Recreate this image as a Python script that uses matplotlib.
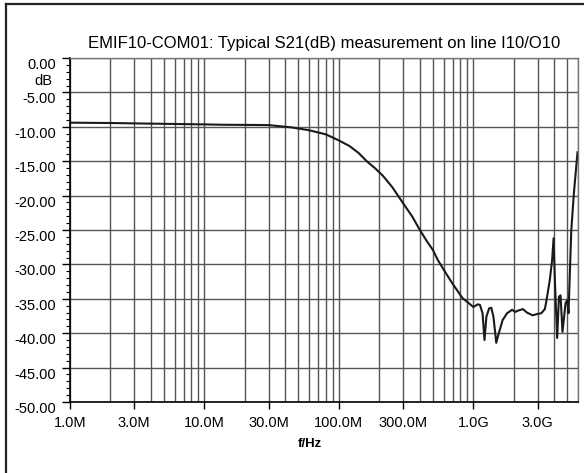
import matplotlib
matplotlib.use('Agg')
import matplotlib.pyplot as plt
from matplotlib.ticker import FixedLocator, LogLocator, NullFormatter, MultipleLocator
from matplotlib.lines import Line2D

plt.rcParams['font.family'] = ['Liberation Sans', 'DejaVu Sans']

# measured S21 curve (frequency in MHz, level in dB)
freq_mhz = [1.0, 2.0, 4.3, 10, 13.5, 30, 45, 60, 80, 98, 120, 140, 161, 185, 212,
            250, 300, 350, 400, 450, 500, 545, 635, 700, 830, 920, 1000, 1080,
            1120, 1170, 1210, 1250, 1310, 1360, 1410, 1480, 1520, 1650, 1780,
            1940, 2050, 2160, 2340, 2500, 2760, 3000, 3200, 3400, 3500, 3700,
            3850, 3950, 4050, 4200, 4330, 4450, 4600, 4850, 5000, 5100, 5350,
            5600, 5950]
s21_db = [-9.4, -9.45, -9.55, -9.65, -9.7, -9.75, -10.1, -10.5, -11.1, -11.9,
          -12.8, -13.8, -15.0, -16.0, -17.1, -18.8, -21.1, -23.0, -25.0, -26.6,
          -27.9, -29.4, -31.5, -32.8, -34.9, -35.6, -36.2, -35.8, -35.9, -37.1,
          -41.0, -37.6, -36.4, -36.3, -37.6, -41.4, -40.5, -38.1, -37.1, -36.6,
          -36.9, -36.7, -36.5, -37.0, -37.4, -37.2, -37.1, -36.5, -35.2, -32.3,
          -29.4, -26.2, -33.0, -40.7, -34.7, -34.5, -39.8, -35.6, -35.2, -37.1,
          -25.0, -19.5, -13.7]

xtick_vals = [1e6, 3e6, 10e6, 30e6, 100e6, 300e6, 1e9, 3e9]
xtick_labels = ['1.0M', '3.0M', '10.0M', '30.0M', '100.0M', '300.0M', '1.0G', '3.0G']
ytick_vals = [0, -5, -10, -15, -20, -25, -30, -35, -40, -45, -50]
ytick_labels = ['%.2f' % v for v in ytick_vals]

fig = plt.figure(figsize=(5.84, 4.73), dpi=100)
ax = fig.add_axes([70 / 584, 1 - 402 / 473, 508 / 584, 344 / 473])

ax.plot([f * 1e6 for f in freq_mhz], s21_db, color='#1a1a1a', lw=1.5)

ax.set_xscale('log')
ax.set_xlim(1e6, 6e9)
ax.set_ylim(-50, 0)

ax.xaxis.set_major_locator(FixedLocator(xtick_vals))
ax.set_xticklabels(xtick_labels)
ax.xaxis.set_minor_locator(LogLocator(base=10, subs=range(1, 10)))
ax.xaxis.set_minor_formatter(NullFormatter())
ax.tick_params(axis='x', which='minor', length=0)
ax.tick_params(axis='x', which='major', length=5, width=1, pad=5, labelsize=10.5,
               colors='black')

ax.yaxis.set_major_locator(FixedLocator(ytick_vals))
ax.set_yticklabels(ytick_labels)
ax.yaxis.set_minor_locator(MultipleLocator(1))
ax.tick_params(axis='y', which='major', length=6, width=1, pad=4, labelsize=10.5)
ax.tick_params(axis='y', which='minor', length=3, width=0.8)
for lab in ax.get_yticklabels():
    lab.set_verticalalignment('top')

ax.grid(True, which='both', axis='x', color='#555555', lw=1.0)
ax.grid(True, which='major', axis='y', color='#555555', lw=1.0)
ax.set_axisbelow(True)

for side in ['left', 'bottom']:
    ax.spines[side].set_color('black')
    ax.spines[side].set_linewidth(1.2)
for side in ['top', 'right']:
    ax.spines[side].set_color('#777777')
    ax.spines[side].set_linewidth(1.0)

ax.set_title('EMIF10-COM01: Typical S21(dB) measurement on line I10/O10',
             fontsize=12, pad=7)
ax.set_xlabel('f/Hz', fontsize=9.5, fontweight='bold', labelpad=1)
ax.xaxis.set_label_coords((310 - 70) / 508, -0.105)
fig.text(43 / 584, 1 - 81 / 473, 'dB', fontsize=10.5, ha='center', va='center')

# outer frame (left and top edges)
fig.add_artist(Line2D([6 / 584, 6 / 584], [0, 1 - 4 / 473], color='#222222', lw=1.6))
fig.add_artist(Line2D([6 / 584, 1], [1 - 4 / 473, 1 - 4 / 473], color='#222222', lw=1.6))

fig.savefig('out.png', dpi=100)
